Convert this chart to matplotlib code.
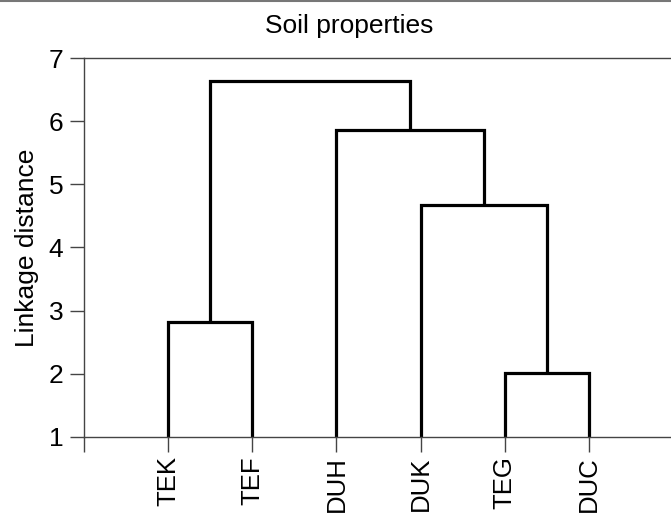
import matplotlib
matplotlib.use("Agg")
import matplotlib.pyplot as plt
from matplotlib.lines import Line2D

# leaves in display order
leaves = ["TEK", "TEF", "DUH", "DUK", "TEG", "DUC"]
# merges: new cluster ids start at len(leaves)
merge_a = [4, 0, 3, 2, 7]
merge_b = [5, 1, 6, 8, 9]
merge_h = [2.01, 2.82, 4.67, 5.86, 6.64]

plt.rcParams["font.family"] = ["Liberation Sans", "DejaVu Sans"]

fig = plt.figure(figsize=(6.71, 5.14), dpi=100)
ax = fig.add_axes([84 / 671, 1 - 437 / 514, (673 - 84) / 671, (437 - 58) / 514])

xs = {i: i + 1 for i in range(len(leaves))}
hs = {i: 0.0 for i in range(len(leaves))}
for k, (a, b, h) in enumerate(zip(merge_a, merge_b, merge_h)):
    ax.plot([xs[a], xs[a], xs[b], xs[b]], [hs[a], h, h, hs[b]],
            color="black", lw=2.3, solid_joinstyle="miter", solid_capstyle="butt")
    cid = len(leaves) + k
    xs[cid] = (xs[a] + xs[b]) / 2
    hs[cid] = h

ax.set_xlim(0, 7)
ax.set_ylim(1, 7)
ax.set_xticks(range(0, 8))
ax.set_xticklabels([""] + leaves + [""], rotation=90, fontsize=18.5)
ax.set_yticks(range(1, 8))
ax.tick_params(axis="y", labelsize=19, length=10, width=1, color="#444", pad=5)
ax.tick_params(axis="x", length=11, width=1, color="#444", pad=3)
for s in ax.spines.values():
    s.set_color("#444")
    s.set_linewidth(1)
ax.set_ylabel("Linkage distance", fontsize=19, labelpad=7)

fig.text(349 / 671, 1 - 26 / 514, "Soil properties", ha="center", va="center", fontsize=19)
fig.add_artist(Line2D([0, 1], [0.999, 0.999], color="#777", lw=1.5, transform=fig.transFigure))

fig.savefig("out.png", dpi=100)
